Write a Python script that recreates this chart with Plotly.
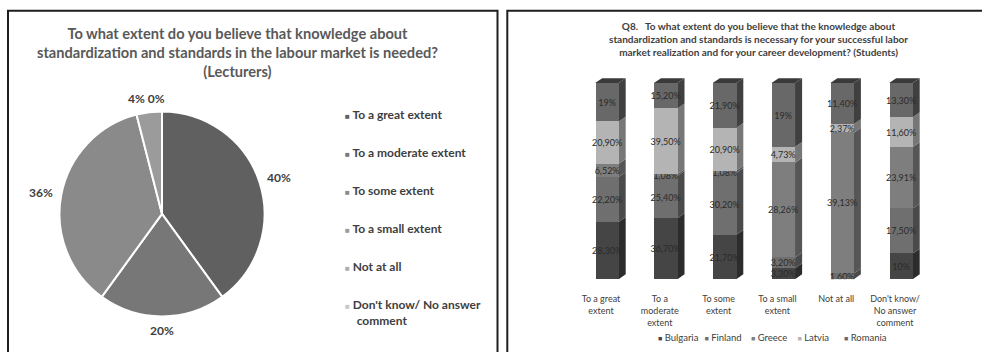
import math
import plotly.graph_objects as go

# ---------------- data ----------------
pie_labels = ["To a great extent", "To a moderate extent", "To some extent",
              "To a small extent", "Not at all", "Don't know/ No answer<br>comment"]
pie_values = [40, 20, 36, 4, 0, 0]
pie_label_shown = [True, True, True, True, True, False]

categories = ["To a great<br>extent", "To a<br>moderate<br>extent", "To some<br>extent",
              "To a small<br>extent", "Not at all", "Don't know/<br>No answer<br>comment"]
countries = ["Bulgaria", "Finland", "Greece", "Latvia", "Romania"]
bulgaria = [28.30, 36.70, 21.70, 3.30, None, 10]
finland = [22.20, 25.40, 30.20, 3.20, 1.60, 17.50]
greece = [6.52, 1.08, 1.08, 28.26, 39.13, 23.91]
latvia = [20.90, 39.50, 20.90, 4.73, 2.37, 11.60]
romania = [19, 15.20, 21.90, 19, 11.40, 13.30]
series = [bulgaria, finland, greece, latvia, romania]

# ---------------- style ----------------
FONT = "Lato"
pie_colors = ["#606060", "#777777", "#8a8a8a", "#9b9b9b", "#adadad", "#c8c8c8"]
bar_colors = ["#454545", "#6f6f6f", "#7e7e7e", "#b4b4b4", "#686868"]
side_colors = ["#2c2c2c", "#4a4a4a", "#565656", "#777777", "#404040"]
top_color = "#3a3a3a"
W, H = 982, 352
PIE_CX, PIE_CY, PIE_R = 162, 217, 104   # pixel geometry of pie domain
LABEL_R = 122


def fmt(v):
    if v is None:
        return ""
    if float(v).is_integer():
        return f"{int(v)}%"
    return f"{v:.2f}".replace(".", ",") + "%"


fig = go.Figure()

fig.add_trace(go.Pie(
    labels=pie_labels, values=pie_values, sort=False, direction="clockwise", rotation=0,
    marker=dict(colors=pie_colors, line=dict(color="white", width=2)),
    textinfo="none", showlegend=False, hoverinfo="label+percent",
    domain=dict(x=[(PIE_CX - PIE_R) / W, (PIE_CX + PIE_R) / W],
                y=[1 - (PIE_CY + PIE_R) / H, 1 - (PIE_CY - PIE_R) / H]),
))

# pie data labels (outside end), zero slices merged with the preceding visible slice label
total = sum(pie_values)
annotations = []
label_items = []  # (mid_angle, text)
cum = 0
for v, show in zip(pie_values, pie_label_shown):
    mid = (cum + v / 2) / total * 360
    t = f"{v:g}%"
    if show:
        if v == 0 and label_items:
            label_items[-1] = (label_items[-1][0], label_items[-1][1] + " " + t)
        else:
            label_items.append((mid, t))
    cum += v
for ang, t in label_items:
    a = math.radians(ang)
    px = PIE_CX + LABEL_R * math.sin(a) * 1.01
    py = PIE_CY - LABEL_R * math.cos(a) * 0.97
    annotations.append(dict(text=f"<b>{t}</b>", x=px / W, y=1 - py / H, xref="paper", yref="paper",
                            xanchor="center", yanchor="middle", showarrow=False,
                            font=dict(family=FONT, size=12, color="#404040")))

# legend entries for pie (separate groups for spacing)
for i, (lab, col) in enumerate(zip(pie_labels, pie_colors)):
    lab2 = lab.replace("<br>", "<br>&nbsp;&nbsp;&nbsp;&nbsp;")
    fig.add_trace(go.Scatter(
        x=[None], y=[None], mode="markers", legend="legend2", legendgroup=f"p{i}",
        name=f'<span style="color:{col};font-size:8px">■</span> {lab2}',
        marker=dict(symbol="square", size=1, color="rgba(0,0,0,0)"), hoverinfo="skip"))

idx = list(range(len(categories)))
totals = [sum(s[i] for s in series if s[i] is not None) for i in idx]
norm = [[(s[i] / totals[i] * 100) if s[i] is not None else None for i in idx] for s in series]

BW = 0.4
OFF = -0.1
DX = 0.12
DY = 2.5
for k, name in enumerate(countries):
    fig.add_trace(go.Bar(
        x=idx, y=norm[k], name=name, width=BW, offset=OFF, showlegend=False,
        legendgroup=name,
        marker=dict(color=bar_colors[k], line=dict(width=0)),
        text=[fmt(v) for v in series[k]], textposition="inside", insidetextanchor="middle",
        textangle=0, constraintext="none",
        textfont=dict(family=FONT, size=9, color="#2a2a2a"),
        hoverinfo="name+text",
    ))
for k, name in enumerate(countries):
    fig.add_trace(go.Scatter(
        x=[None], y=[None], mode="markers", legendgroup=name,
        name=f'<span style="color:{bar_colors[k]};font-size:7px">■</span> {name}',
        marker=dict(symbol="square", size=1, color="rgba(0,0,0,0)"), hoverinfo="skip"))
# spacer so the last compact legend entry is not clipped
fig.add_trace(go.Scatter(x=[None], y=[None], mode="markers", name="&nbsp;", legendgroup="pad",
                         marker=dict(size=1, color="rgba(0,0,0,0)"), hoverinfo="skip"))

shapes = []
for i in idx:
    cum = 0
    x0 = i + OFF
    x1 = i + OFF + BW
    for k in range(len(countries)):
        v = norm[k][i]
        if v is None:
            continue
        y0, y1 = cum, cum + v
        shapes.append(dict(type="path", xref="x", yref="y", layer="below",
                           path=f"M {x1},{y0} L {x1 + DX},{y0 + DY} L {x1 + DX},{y1 + DY} L {x1},{y1} Z",
                           fillcolor=side_colors[k], line=dict(width=0)))
        cum = y1
    shapes.append(dict(type="path", xref="x", yref="y", layer="below",
                       path=f"M {x0},{cum} L {x0 + DX},{cum + DY} L {x1 + DX},{cum + DY} L {x1},{cum} Z",
                       fillcolor=top_color, line=dict(width=0)))

# panel borders
shapes.append(dict(type="rect", xref="paper", yref="paper", x0=8 / W, x1=497.5 / W,
                   y0=-0.2, y1=1 - 11 / H, line=dict(color="#1e1e1e", width=2), layer="above"))
shapes.append(dict(type="rect", xref="paper", yref="paper", x0=507.3 / W, x1=1.1,
                   y0=-0.2, y1=1 - 11 / H, line=dict(color="#1e1e1e", width=2), layer="above"))

annotations += [
    dict(text="<b>To what extent do you believe that knowledge about<br>standardization and standards in the labour market is needed?<br>(Lecturers)</b>",
         x=237 / W, y=1 - 23.5 / H, xref="paper", yref="paper", xanchor="center", yanchor="top",
         showarrow=False, font=dict(family=FONT, size=14.6, color="#595959")),
    dict(text="<b>Q8.&nbsp;&nbsp;&nbsp;To what extent do you believe that the knowledge about<br>standardization and standards is necessary for your successful labor<br>market realization and for your career development? (Students)</b>",
         x=758 / W, y=1 - 18 / H, xref="paper", yref="paper", xanchor="center", yanchor="top",
         showarrow=False, font=dict(family=FONT, size=10, color="#404040")),
]

fig.update_layout(
    width=W, height=H, margin=dict(l=0, r=0, t=0, b=0),
    paper_bgcolor="white", plot_bgcolor="white",
    font=dict(family=FONT, color="#404040"),
    barmode="stack", bargap=0,
    uniformtext=dict(minsize=9, mode="show"),
    shapes=shapes, annotations=annotations,
    xaxis=dict(domain=[571.6 / W, 924.4 / W], range=[-0.5, 5.5], tickvals=idx, ticktext=categories,
               showgrid=False, zeroline=False, showline=False, ticks="", ticklabelstandoff=13,
               tickfont=dict(family=FONT, size=9, color="#404040"), fixedrange=True),
    yaxis=dict(domain=[1 - 283.3 / H, 1 - 78.3 / H], range=[0, 103], visible=False, fixedrange=True),
    legend=dict(orientation="h", x=(660 - 40 - 2) / W, xanchor="left", y=1 - 342 / H, yanchor="middle",
                font=dict(family=FONT, size=9.5, color="#404040"), itemwidth=30,
                entrywidth=1.5, entrywidthmode="pixels", traceorder="normal",
                bgcolor="rgba(0,0,0,0)"),
    legend2=dict(orientation="v", x=(347 - 42) / W, xanchor="left", y=1 - 101.5 / H, yanchor="top",
                 font=dict(family=FONT, size=12, color="#404040", weight="bold"), itemwidth=30,
                 tracegroupgap=19, bgcolor="rgba(0,0,0,0)"),
)

fig.write_html("out.html")
